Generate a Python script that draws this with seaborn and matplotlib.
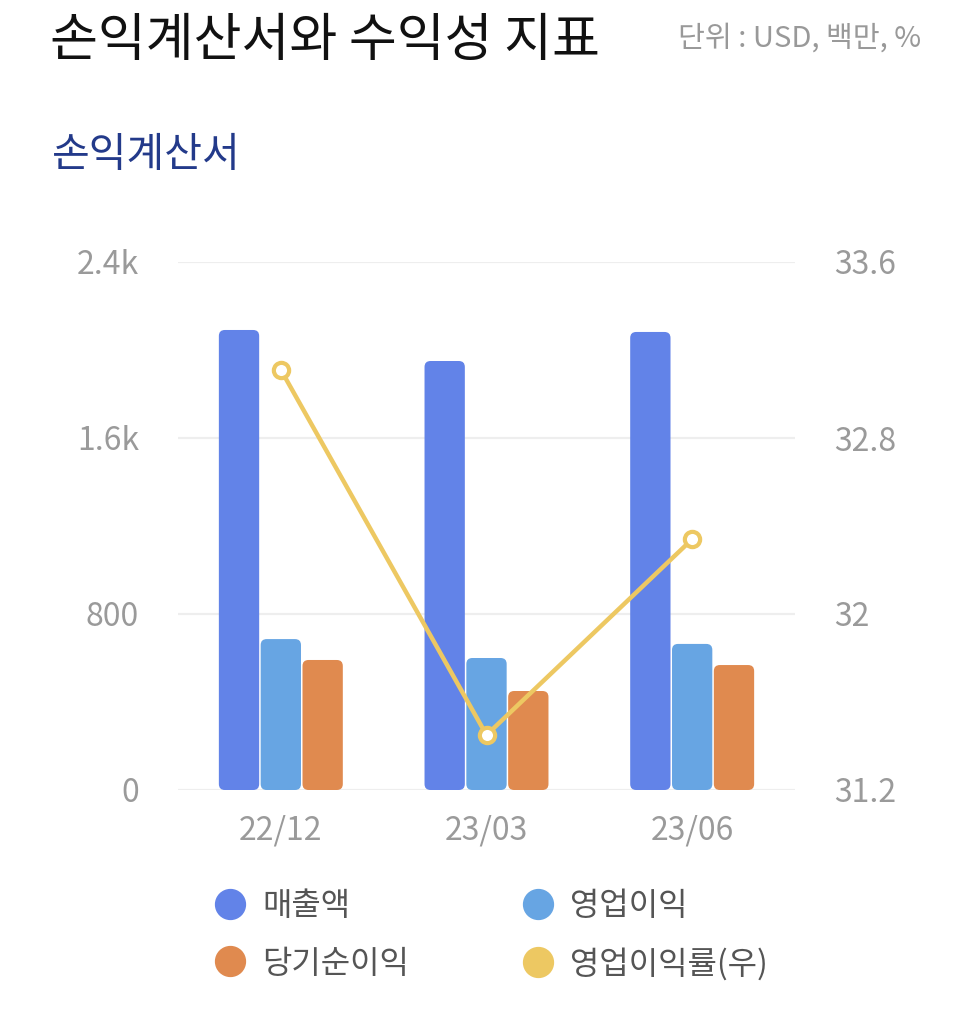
import matplotlib
matplotlib.use("Agg")
import matplotlib.pyplot as plt
import seaborn as sns
import pandas as pd
from matplotlib.patches import FancyBboxPatch
from matplotlib.lines import Line2D

periods = ["22/12", "23/03", "23/06"]
revenue = [2091, 1950, 2082]
op_income = [686, 600, 664]
net_income = [591, 450, 568]
op_margin = [33.11, 31.45, 32.34]
series_names = ["매출액", "영업이익", "당기순이익"]
margin_name = "영업이익률(우)"
left_ticks = [0, 800, 1600, 2400]
left_labels = ["0", "800", "1.6k", "2.4k"]
right_ticks = [31.2, 32.0, 32.8, 33.6]
right_labels = ["31.2", "32", "32.8", "33.6"]

colors = ["#6283E8", "#67A5E3", "#E08A4F"]
line_color = "#EDC862"

sns.set_theme(style="white")
plt.rcParams["font.family"] = ["Noto Sans CJK KR", "DejaVu Sans"]

df = pd.DataFrame({
    "period": periods * 3,
    "value": revenue + op_income + net_income,
    "series": [series_names[0]] * 3 + [series_names[1]] * 3 + [series_names[2]] * 3,
})
dm = pd.DataFrame({"period": periods, "margin": op_margin})

fig = plt.figure(figsize=(9.75, 10.24), dpi=100)
ax = fig.add_axes([178 / 975, 1 - 790 / 1024, (795 - 178) / 975, (790 - 262) / 1024])

sns.barplot(data=df, x="period", y="value", hue="series", hue_order=series_names,
            palette=colors, width=0.61, ax=ax, legend=False, saturation=1, errorbar=None)

# round bar corners
px_x = 1 / 205.5
px_y = 2400 / 528
rects = list(ax.patches)
for r in rects:
    x, y = r.get_x(), r.get_y()
    w, h = r.get_width(), r.get_height()
    fc = r.get_facecolor()
    r.remove()
    w2 = w - 1.5 * px_x
    fb = FancyBboxPatch((x + 0.75 * px_x, y), w2, h,
                        boxstyle=f"round,pad=0,rounding_size={6 * px_x}",
                        mutation_aspect=px_y / px_x, facecolor=fc, edgecolor="none",
                        zorder=2)
    ax.add_patch(fb)

ax.set_ylim(0, 2400)
ax.set_yticks(left_ticks)
ax.set_yticklabels(left_labels)
ax.grid(axis="y", color="#EEEEEE", linewidth=1.6, zorder=0)
ax.set_axisbelow(True)
ax.set_xlabel("")
ax.set_ylabel("")

ax2 = ax.twinx()
sns.pointplot(data=dm, x="period", y="margin", ax=ax2, color=line_color,
              markers="o", linestyles="-", linewidth=3.2, markersize=11,
              markerfacecolor="white", markeredgecolor=line_color,
              markeredgewidth=3, errorbar=None)
ax2.set_ylim(31.2, 33.6)
ax2.set_yticks(right_ticks)
ax2.set_yticklabels(right_labels)
ax2.set_ylabel("")
ax2.set_xlabel("")
ax2.grid(False)
ax.set_xlim(-0.5, 2.5)
ax2.set_xlim(-0.5, 2.5)

for a in (ax, ax2):
    for s in a.spines.values():
        s.set_visible(False)
    a.tick_params(length=0, labelsize=23, labelcolor="#9A9A9A")
ax.tick_params(axis="y", pad=28)
ax2.tick_params(axis="y", pad=28)
ax.tick_params(axis="x", pad=18)

fig.text(0.051, 1 - 41 / 1024, "손익계산서와 수익성 지표", fontsize=37.5, color="#111111",
         va="center", ha="left", fontweight="medium")
fig.text(0.945, 1 - 39 / 1024, "단위 : USD, 백만, %", fontsize=21, color="#999999",
         va="center", ha="right")
fig.text(0.053, 1 - 155 / 1024, "손익계산서", fontsize=29.5, color="#233A8A",
         va="center", ha="left", fontweight="medium")

handles = [
    Line2D([], [], marker="o", linestyle="none", markersize=21.5, color=colors[0]),
    Line2D([], [], marker="o", linestyle="none", markersize=21.5, color=colors[2]),
    Line2D([], [], marker="o", linestyle="none", markersize=21.5, color=colors[1]),
    Line2D([], [], marker="o", linestyle="none", markersize=21.5, color=line_color),
]
labels = [series_names[0], series_names[2], series_names[1], margin_name]
fig.legend(handles, labels, ncol=2, loc="upper left",
           bbox_to_anchor=(211 / 975, 1 - 890 / 1024), frameon=False,
           fontsize=23, labelcolor="#555555", handletextpad=0.4,
           columnspacing=3.45, labelspacing=0.8, handlelength=1.2,
           borderpad=0, borderaxespad=0)

fig.savefig("out.png", dpi=100, facecolor="white")
